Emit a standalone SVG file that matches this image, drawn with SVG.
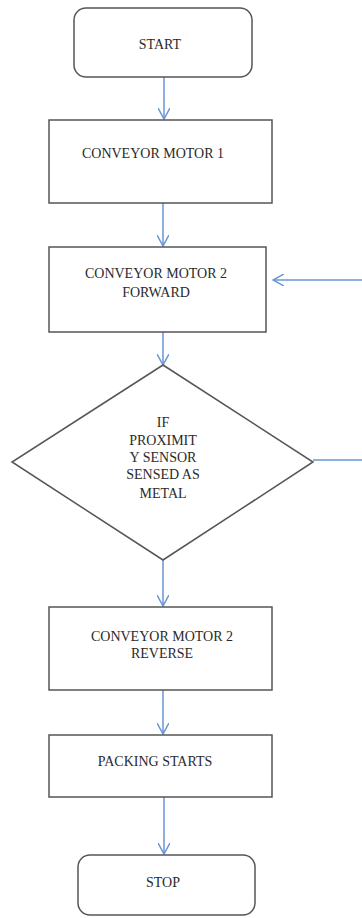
<svg xmlns="http://www.w3.org/2000/svg" width="362" height="918" viewBox="0 0 362 918">
<style>
.n{fill:#fff;stroke:#555;stroke-width:1.5}
.t{font-family:'Liberation Serif','Times New Roman','DejaVu Serif',serif;font-size:14px;fill:#2a2a2a;text-anchor:middle}
.c{fill:none;stroke:#6a95d4;stroke-width:1.5}
</style>
<defs>
<marker id="a" viewBox="0 0 12 12" refX="11" refY="6" markerWidth="12" markerHeight="12" markerUnits="userSpaceOnUse" orient="auto">
<path d="M0,0 L11,6 L0,12" fill="none" stroke="#6a95d4" stroke-width="1.5"/>
</marker>
</defs>
<rect width="362" height="918" fill="#fff"/>
<g id="connectors">
<line class="c" x1="164" y1="77" x2="164" y2="119" marker-end="url(#a)"/>
<line class="c" x1="163" y1="203" x2="163" y2="246" marker-end="url(#a)"/>
<line class="c" x1="163" y1="332" x2="163" y2="365" marker-end="url(#a)"/>
<line class="c" x1="163" y1="560" x2="163" y2="606" marker-end="url(#a)"/>
<line class="c" x1="163" y1="690" x2="163" y2="734" marker-end="url(#a)"/>
<line class="c" x1="164" y1="797" x2="164" y2="854" marker-end="url(#a)"/>
<line class="c" x1="313" y1="460" x2="362" y2="460"/>
<line class="c" x1="362" y1="280" x2="273" y2="280" marker-end="url(#a)"/>
</g>
<g id="start">
<rect class="n" x="74" y="8" width="178" height="69" rx="12"/>
<text class="t" x="160" y="49">START</text>
</g>
<g id="motor1">
<rect class="n" x="49" y="120" width="223" height="83"/>
<text class="t" x="153" y="158">CONVEYOR MOTOR 1</text>
</g>
<g id="motor2fwd">
<rect class="n" x="49" y="247" width="217" height="85"/>
<text class="t" x="156" y="278">CONVEYOR MOTOR 2</text>
<text class="t" x="156" y="297">FORWARD</text>
</g>
<g id="decision">
<polygon class="n" points="163,365 313,462 163,560 12,462"/>
<text class="t" x="163" y="427">IF</text>
<text class="t" x="163" y="445">PROXIMIT</text>
<text class="t" x="163" y="462">Y SENSOR</text>
<text class="t" x="163" y="479">SENSED AS</text>
<text class="t" x="163" y="498">METAL</text>
</g>
<g id="motor2rev">
<rect class="n" x="49" y="607" width="223" height="83"/>
<text class="t" x="162" y="641">CONVEYOR MOTOR 2</text>
<text class="t" x="162" y="658">REVERSE</text>
</g>
<g id="packing">
<rect class="n" x="49" y="735" width="223" height="62"/>
<text class="t" x="155" y="766">PACKING STARTS</text>
</g>
<g id="stop">
<rect class="n" x="78" y="855" width="177" height="60" rx="12"/>
<text class="t" x="163" y="887">STOP</text>
</g>
</svg>
